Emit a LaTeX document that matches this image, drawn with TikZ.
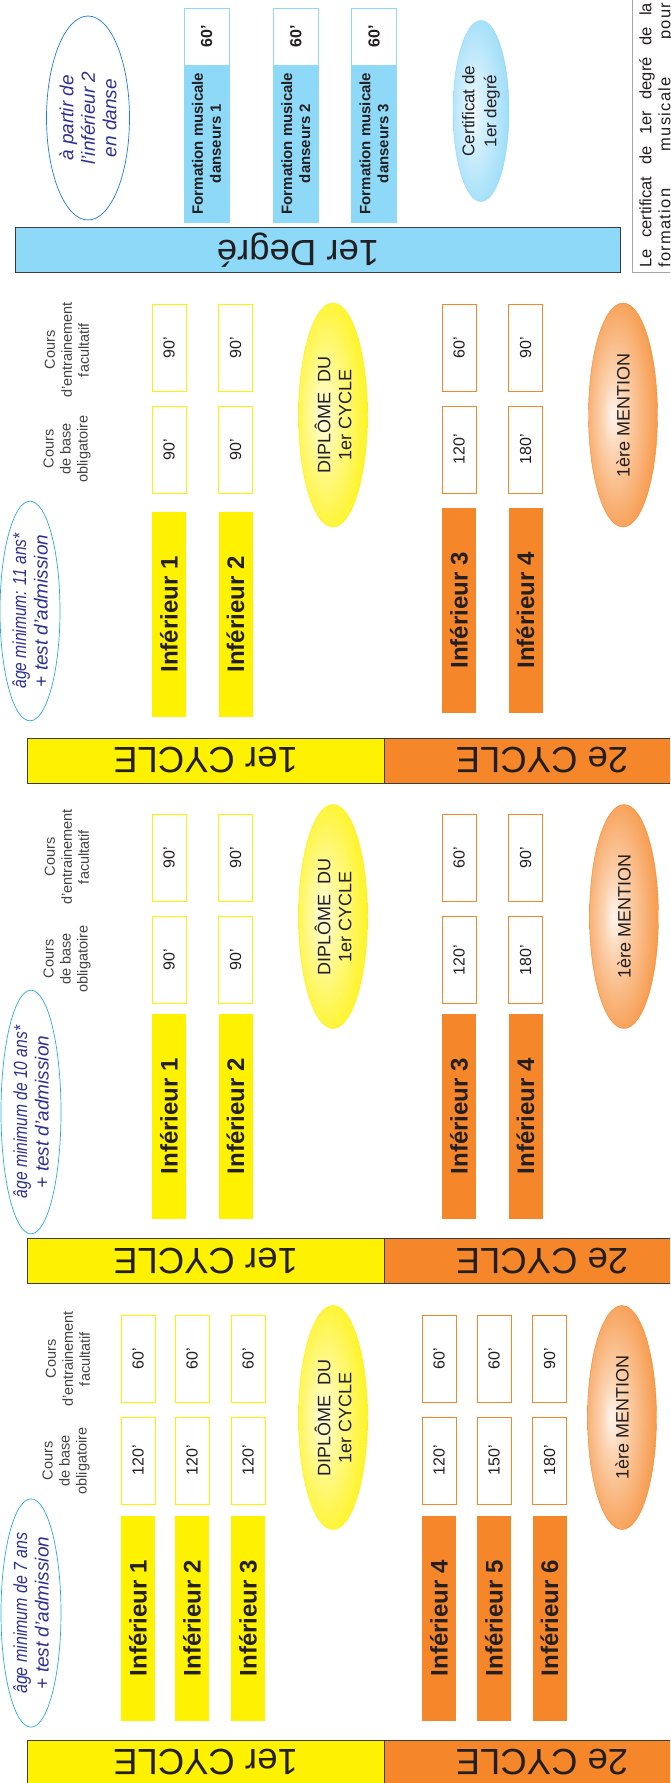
\documentclass[tikz,border=0pt]{standalone}
\usepackage{fontspec}
\setmainfont{Liberation Sans}
\usepackage{graphicx}
\usepackage{xcolor}
\usetikzlibrary{shapes.geometric}
\definecolor{jaune}{RGB}{255,242,0}
\definecolor{orange2}{RGB}{245,135,42}
\definecolor{bleu}{RGB}{142,216,248}
\definecolor{contour}{RGB}{41,171,226}
\definecolor{indigo}{RGB}{46,49,146}
\definecolor{texte}{RGB}{35,31,32}
\definecolor{trait}{RGB}{60,60,60}
\newcommand\fsz[2]{\fontsize{#1}{#2}\selectfont}
\pgfdeclareradialshading{glowjaune}{\pgfpoint{-8bp}{0bp}}{color(0bp)=(jaune!10); color(8bp)=(jaune!35); color(30bp)=(jaune!90); color(50bp)=(jaune)}
\pgfdeclareradialshading{gloworange}{\pgfpoint{-8bp}{0bp}}{color(0bp)=(orange2!8); color(8bp)=(orange2!35); color(30bp)=(orange2!88); color(50bp)=(orange2)}
\pgfdeclareradialshading{glowbleu}{\pgfpoint{-8bp}{0bp}}{color(0bp)=(bleu!8); color(8bp)=(bleu!35); color(30bp)=(bleu!90); color(50bp)=(bleu)}
\begin{document}
\begin{tikzpicture}[x=1pt,y=-1pt,
    bandbox/.style={draw=trait,line width=0.8pt,rotate=180,inner sep=0pt,minimum height=45pt,font=\fsz{36.5}{40},text=texte},
    bandtxt/.style={rotate=180,inner sep=0pt,font=\fsz{36.5}{40},text=texte},
    infbar/.style={rotate=90,inner sep=0pt,minimum width=205pt,minimum height=34pt,font=\bfseries\fsz{24}{28},text=texte},
    dur/.style={rotate=90,draw,fill=white,line width=0.8pt,inner sep=0pt,minimum width=87pt,minimum height=34pt,font=\fsz{16}{19},text=texte},
    entete/.style={rotate=90,align=center,inner sep=0pt,font=\fsz{14.5}{17},text=texte!85},
    diplo/.style={ellipse,rotate=90,inner sep=0pt,minimum width=224pt,minimum height=69pt,align=center,font=\fsz{18}{21},text=texte},
    agebulle/.style={ellipse,rotate=90,draw=contour,line width=0.7pt,inner sep=0pt,minimum width=214pt,minimum height=60pt,align=center,font=\itshape\fsz{19}{21.5},text=indigo},
    fmbox/.style={rotate=90,fill=bleu,draw=bleu,inner sep=0pt,minimum width=157pt,minimum height=45pt,align=center,font=\bfseries\fsz{15}{18},text=texte},
    fmtime/.style={rotate=90,fill=white,draw=bleu,line width=0.8pt,inner sep=0pt,minimum width=57pt,minimum height=45pt,font=\bfseries\fsz{16}{19},text=texte}]
    \useasboundingbox (0,0) rectangle (670,1783);
    \clip (0,0) rectangle (670,1783);
    % Note box (right edge)
    \draw[gray!70,line width=0.8pt] (632,-20) rectangle (720,272);
    \node[rotate=90,anchor=north west,inner sep=0pt,align=left,font=\fsz{16.5}{19},text=texte] (note) at (639,268)
      {\makebox[265pt][s]{Le certificat de 1er degré de la}\\\makebox[265pt][s]{\addfontfeature{LetterSpace=8}formation musicale pour}};
    % 1er Degre
    \node[agebulle,minimum width=204pt,minimum height=83pt,draw=contour!70!blue] (apartir) at (88,118) {à partir de\\l'inférieur 2\\en danse};
    \node[fmbox]  (fm1)  at (206.5,143.5) {Formation musicale\\danseurs 1};
    \node[fmtime] (fm1t) at (206.5,36.5)  {60'};
    \node[fmbox]  (fm2)  at (295.75,143.5){Formation musicale\\danseurs 2};
    \node[fmtime] (fm2t) at (295.75,36.5) {60'};
    \node[fmbox]  (fm3)  at (374,143.5)   {Formation musicale\\danseurs 3};
    \node[fmtime] (fm3t) at (374,36.5)    {60'};
    \node[diplo,shading=glowbleu,draw=bleu,minimum width=181pt,minimum height=56pt,font=\fsz{17}{22}] (certif) at (481,111) {Certificat de\\1er degré};
    \node[bandbox,fill=bleu,minimum width=605pt] (degre) at (317.5,250) {};
    \node[bandtxt] (degretxt) at (298,250) {1er Degré};
    % 11 ans
    \node[entete] (hA1) at (67,350) {Cours\\d'entrainement\\facultatif};
    \node[entete] (hA2) at (67,449) {Cours\\de base\\obligatoire};
    \node[agebulle] (ageA) at (30,611) {\scalebox{0.82}[1]{âge minimum: 11 ans*}\\+ test d'admission};
    \node[dur,draw=jaune]   (A1t) at (169,348)   {90'};
    \node[dur,draw=jaune]   (A1b) at (169,449.5) {90'};
    \node[dur,draw=jaune]   (A2t) at (235.5,348) {90'};
    \node[dur,draw=jaune]   (A2b) at (235.5,449.5){90'};
    \node[dur,draw=orange2] (A3t) at (459,348)   {60'};
    \node[dur,draw=orange2] (A3b) at (459,449.5) {120'};
    \node[dur,draw=orange2] (A4t) at (525.5,348) {90'};
    \node[dur,draw=orange2] (A4b) at (525.5,449.5){180'};
    \node[infbar,fill=jaune]   (A1) at (169,614.5)   {Inférieur 1};
    \node[infbar,fill=jaune]   (A2) at (235.5,614.5) {Inférieur 2};
    \node[infbar,fill=orange2] (A3) at (459,610.5)   {Inférieur 3};
    \node[infbar,fill=orange2] (A4) at (525.5,610.5) {Inférieur 4};
    \node[diplo,shading=glowjaune,draw=jaune]    (dipA) at (333,415) {DIPLÔME~~DU\\1er CYCLE};
    \node[diplo,shading=gloworange,draw=orange2] (menA) at (623,415) {1ère MENTION};
    \node[bandbox,fill=jaune,minimum width=357pt]   (cycA1) at (205.5,760.5) {1er CYCLE};
    \node[bandbox,fill=orange2,minimum width=316pt] (cycA2) at (542,760.5)   {2e CYCLE};
    % 10 ans
    \node[entete] (hB1) at (67,857) {Cours\\d'entrainement\\facultatif};
    \node[entete] (hB2) at (67,959) {Cours\\de base\\obligatoire};
    \node[agebulle] (ageB) at (31,1112) {\scalebox{0.82}[1]{âge minimum de 10 ans*}\\+ test d'admission};
    \node[dur,draw=jaune]   (B1t) at (169,858)   {90'};
    \node[dur,draw=jaune]   (B1b) at (169,960)   {90'};
    \node[dur,draw=jaune]   (B2t) at (235.5,858) {90'};
    \node[dur,draw=jaune]   (B2b) at (235.5,960) {90'};
    \node[dur,draw=orange2] (B3t) at (459,858)   {60'};
    \node[dur,draw=orange2] (B3b) at (459,960)   {120'};
    \node[dur,draw=orange2] (B4t) at (525.5,858) {90'};
    \node[dur,draw=orange2] (B4b) at (525.5,960) {180'};
    \node[infbar,fill=jaune]   (B1) at (169,1116)   {Inférieur 1};
    \node[infbar,fill=jaune]   (B2) at (235.5,1116) {Inférieur 2};
    \node[infbar,fill=orange2] (B3) at (459,1116)   {Inférieur 3};
    \node[infbar,fill=orange2] (B4) at (525.5,1116) {Inférieur 4};
    \node[diplo,shading=glowjaune,draw=jaune]    (dipB) at (333,916.5) {DIPLÔME~~DU\\1er CYCLE};
    \node[diplo,shading=gloworange,draw=orange2] (menB) at (624,916.5) {1ère MENTION};
    \node[bandbox,fill=jaune,minimum width=357pt]   (cycB1) at (205.5,1261) {1er CYCLE};
    \node[bandbox,fill=orange2,minimum width=316pt] (cycB2) at (542,1261)   {2e CYCLE};
    % 7 ans
    \node[entete] (hC1) at (68,1359) {Cours\\d'entrainement\\facultatif};
    \node[entete] (hC2) at (66,1461) {Cours\\de base\\obligatoire};
    \node[agebulle] (ageC) at (31,1613) {\scalebox{0.84}[1]{âge minimum de 7 ans}\\+ test d'admission};
    \node[dur,draw=jaune]   (C1t) at (138,1358.5)   {60'};
    \node[dur,draw=jaune]   (C1b) at (138,1460.5)   {120'};
    \node[dur,draw=jaune]   (C2t) at (192,1358.5)   {60'};
    \node[dur,draw=jaune]   (C2b) at (192,1460.5)   {120'};
    \node[dur,draw=jaune]   (C3t) at (248,1358.5)   {60'};
    \node[dur,draw=jaune]   (C3b) at (248,1460.5)   {120'};
    \node[dur,draw=orange2] (C4t) at (439,1358.5)   {60'};
    \node[dur,draw=orange2] (C4b) at (439,1460.5)   {120'};
    \node[dur,draw=orange2] (C5t) at (494,1358.5)   {60'};
    \node[dur,draw=orange2] (C5b) at (494,1460.5)   {150'};
    \node[dur,draw=orange2] (C6t) at (549.5,1358.5) {90'};
    \node[dur,draw=orange2] (C6b) at (549.5,1460.5) {180'};
    \node[infbar,fill=jaune]   (C1) at (138,1618)   {Inférieur 1};
    \node[infbar,fill=jaune]   (C2) at (192,1618)   {Inférieur 2};
    \node[infbar,fill=jaune]   (C3) at (248,1618)   {Inférieur 3};
    \node[infbar,fill=orange2] (C4) at (439,1618)   {Inférieur 4};
    \node[infbar,fill=orange2] (C5) at (494,1618)   {Inférieur 5};
    \node[infbar,fill=orange2] (C6) at (549.5,1618) {Inférieur 6};
    \node[diplo,shading=glowjaune,draw=jaune]    (dipC) at (333,1417.5) {DIPLÔME~~DU\\1er CYCLE};
    \node[diplo,shading=gloworange,draw=orange2] (menC) at (622,1417.5) {1ère MENTION};
    \node[bandbox,fill=jaune,minimum width=357pt]   (cycC1) at (205.5,1762.5) {1er CYCLE};
    \node[bandbox,fill=orange2,minimum width=316pt] (cycC2) at (542,1762.5)   {2e CYCLE};
\end{tikzpicture}
\end{document}
